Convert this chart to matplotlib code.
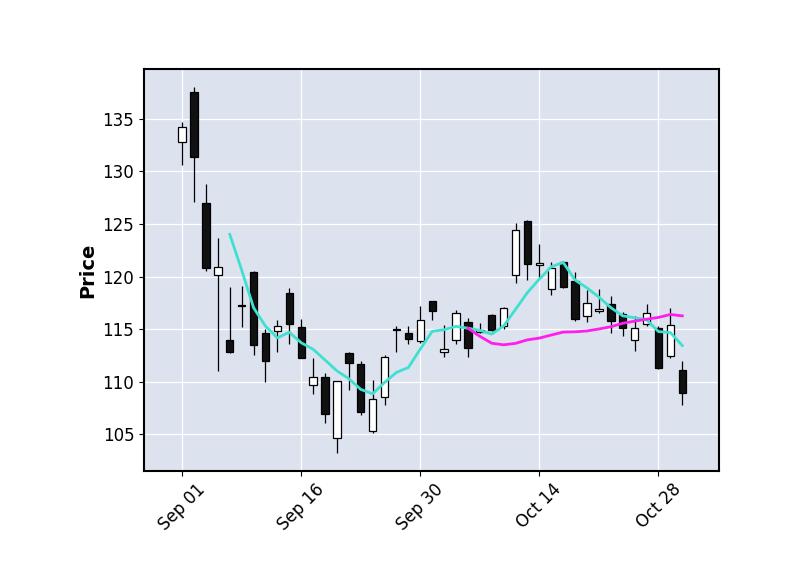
import numpy as np
import pandas as pd
import matplotlib
matplotlib.use('Agg')
import matplotlib.pyplot as plt
from matplotlib.patches import Rectangle

# OHLC (trading days, Sep 01 .. Nov 01)
opens  = [132.8, 137.6, 127.0, 120.1, 114.0, 117.3, 120.4, 114.6, 114.8, 118.4,
          115.2, 109.7, 110.4, 104.6, 112.7, 111.7, 105.3, 108.5, 115.0, 114.6,
          113.9, 117.7, 112.8, 113.95, 115.7, 114.7, 116.3, 115.3, 120.1, 125.3,
          121.1, 118.8, 121.4, 119.6, 116.2, 116.7, 117.4, 116.4, 114.0, 115.5,
          115.1, 112.4, 111.1]
highs  = [134.7, 138.0, 128.8, 123.7, 119.0, 119.1, 120.5, 115.0, 115.9, 118.9,
          116.0, 112.2, 110.8, 110.1, 112.8, 112.0, 110.2, 112.5, 115.3, 115.3,
          117.2, 117.7, 115.4, 116.8, 116.1, 115.6, 116.4, 117.1, 125.1, 125.4,
          123.1, 121.4, 121.5, 120.4, 118.7, 118.8, 118.1, 116.6, 116.2, 117.35,
          115.3, 117.0, 112.0]
lows   = [130.6, 127.1, 120.5, 111.0, 112.7, 115.2, 112.5, 110.0, 112.8, 113.6,
          112.2, 108.8, 106.1, 103.2, 109.2, 106.8, 105.1, 107.8, 112.8, 113.6,
          113.7, 115.9, 112.3, 113.6, 112.3, 114.6, 114.8, 115.0, 119.4, 119.7,
          120.0, 118.2, 118.9, 115.8, 115.7, 116.5, 114.65, 114.3, 112.9, 115.3,
          111.2, 112.2, 107.8]
closes = [134.2, 131.4, 120.8, 120.9, 112.8, 117.2, 113.5, 112.0, 115.3, 115.5,
          112.2, 110.4, 106.9, 110.1, 111.8, 107.1, 108.3, 112.3, 114.9, 114.1,
          115.9, 116.7, 113.1, 116.5, 113.2, 114.9, 114.9, 117.0, 124.4, 121.2,
          121.3, 120.8, 119.0, 116.0, 117.5, 116.9, 115.8, 115.1, 115.1, 116.55,
          111.25, 115.35, 108.9]
tick_pos = [0, 10, 20, 30, 40]
tick_labels = ['Sep 01', 'Sep 16', 'Sep 30', 'Oct 14', 'Oct 28']

df = pd.DataFrame({'Open': opens, 'High': highs, 'Low': lows, 'Close': closes})
ma5 = df['Close'].rolling(5).mean()
ma25 = df['Close'].rolling(25).mean()

fig = plt.figure(figsize=(8, 5.75), dpi=100)
ax = fig.add_axes([0.18, 0.181, 0.719, 0.699])
ax.set_facecolor('#DCE3EF')
ax.grid(True, color='white', linewidth=0.9)
ax.set_axisbelow(True)

w = 0.62
for i, row in df.iterrows():
    up = row['Close'] >= row['Open']
    ax.vlines(i, row['Low'], row['High'], color='black', linewidth=0.9, zorder=2)
    lo = min(row['Open'], row['Close'])
    h = max(abs(row['Close'] - row['Open']), 0.08)
    ax.add_patch(Rectangle((i - w / 2, lo), w, h, facecolor='white' if up else '#111111',
                           edgecolor='black', linewidth=0.9, zorder=3))

ax.plot(df.index, ma5, color='#40E0D0', linewidth=2, zorder=4)
ax.plot(df.index, ma25, color='#FF1EEB', linewidth=2, zorder=4)

ax.set_xlim(-3.2, 45.1)
ax.set_ylim(101.5, 139.75)
ax.set_xticks(tick_pos)
ax.set_xticklabels(tick_labels, rotation=45, fontsize=12)
ax.tick_params(axis='y', labelsize=12)
ax.set_ylabel('Price', fontsize=14, fontweight='bold')
for s in ax.spines.values():
    s.set_linewidth(1.5)

fig.savefig('out.png', dpi=100)
